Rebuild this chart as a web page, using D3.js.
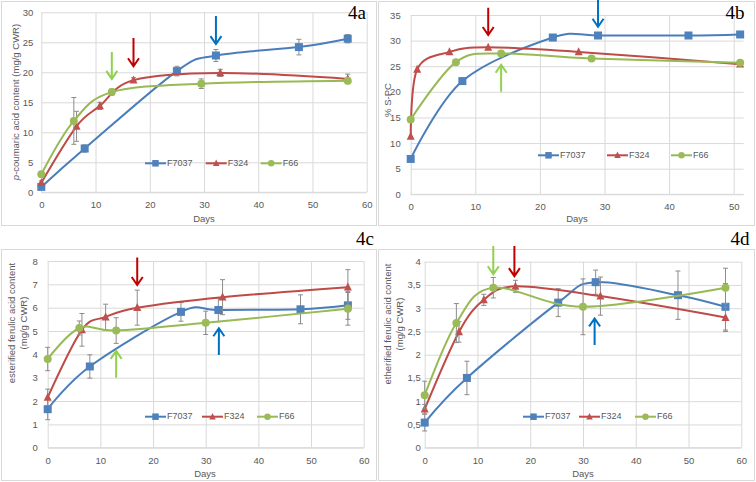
<!DOCTYPE html>
<html><head><meta charset="utf-8">
<script src="https://cdn.jsdelivr.net/npm/d3@7"></script>
<style>
body{margin:0;background:#fff;}
svg{display:block;font-family:"Liberation Sans","Open Sans",sans-serif;}
</style></head><body>
<svg id="c" width="756" height="482"></svg>
<script>
// ---- Data ----
const seriesNames = ["F7037", "F324", "F66"];
// Panel 4a : p-coumaric acid content
const a_F7037_days = [0, 8, 25, 32.2, 47.5, 56.5];
const a_F7037_vals = [0.9, 7.3, 20.2, 22.8, 24.2, 25.6];
const a_F7037_err  = [0.2, 0.6, 0.8, 1.0, 1.3, 0.7];
const a_F324_days  = [0, 6.5, 10.8, 17, 33, 56.5];
const a_F324_vals  = [1.6, 11.0, 14.4, 18.7, 19.9, 18.9];
const a_F324_err   = [0.3, 2.5, 0.6, 0.4, 0.6, 0.8];
const a_F66_days   = [0, 6, 13, 29.5, 56.5];
const a_F66_vals   = [3.0, 11.9, 16.7, 18.1, 18.6];
const a_F66_err    = [0.3, 3.9, 0.5, 0.8, 0.4];
// Panel 4b : % S-PC
const b_F7037_days = [0, 8, 22, 29, 43, 51];
const b_F7037_vals = [6.9, 22.1, 30.6, 31.0, 31.0, 31.2];
const b_F324_days  = [0, 1, 6, 12, 26, 51];
const b_F324_vals  = [11.3, 24.4, 27.8, 28.7, 27.8, 25.4];
const b_F66_days   = [0, 7, 14, 28, 51];
const b_F66_vals   = [14.6, 25.8, 27.5, 26.5, 25.7];
// Panel 4c : esterified ferulic acid content
const c_F7037_days = [0, 8, 25.3, 32.4, 48, 57];
const c_F7037_vals = [1.65, 3.48, 5.82, 5.9, 5.93, 6.1];
const c_F7037_err  = [0.45, 0.5, 0.4, 0.5, 0.62, 0.6];
const c_F324_days  = [0, 6.5, 11, 17, 33.2, 57];
const c_F324_vals  = [2.16, 5.05, 5.6, 6.0, 6.45, 6.88];
const c_F324_err   = [0.35, 0.7, 0.55, 0.75, 0.75, 0.75];
const c_F66_days   = [0, 6, 13, 30, 57];
const c_F66_vals   = [3.8, 5.13, 5.02, 5.35, 5.95];
const c_F66_err    = [0.5, 0.3, 0.55, 0.5, 0.7];
// Panel 4d : etherified ferulic acid content
const d_F7037_days = [0, 8, 25.3, 32.4, 48, 57];
const d_F7037_vals = [0.54, 1.5, 3.12, 3.56, 3.28, 3.03];
const d_F7037_err  = [0.18, 0.36, 0.3, 0.26, 0.52, 0.5];
const d_F324_days  = [0, 6.5, 11.2, 17.2, 33.3, 57];
const d_F324_vals  = [0.83, 2.49, 3.18, 3.47, 3.26, 2.8];
const d_F324_err   = [0.1, 0.22, 0.12, 0.13, 0.41, 0.3];
const d_F66_days   = [0, 6, 13, 30, 57];
const d_F66_vals   = [1.13, 2.68, 3.44, 3.03, 3.44];
const d_F66_err    = [0.3, 0.42, 0.22, 0.6, 0.42];
// Arrows: [day, yFrom, yTo] in data units
const a_arrows = {green:[13, 23.4, 18.9], red:[17, 25.7, 21.0], blue:[32.2, 29.4, 24.7]};
const b_arrows = {red:[12, 36.4, 31.1], blue:[29, 38.5, 32.7], green:[14, 20.0, 25.3]};
const c_arrows = {red:[17, 8.15, 6.97], green:[13, 3.0, 4.15], blue:[32.5, 3.97, 5.12]};
const d_arrows = {green:[13, 4.34, 3.73], red:[17, 4.34, 3.69], blue:[32.2, 2.21, 2.78]};
// Axis ticks
const a_yTicks = [0,5,10,15,20,25,30];
const b_yTicks = [0,5,10,15,20,25,30,35];
const c_yTicks = [0,1,2,3,4,5,6,7,8];
const d_yTicks = [0,0.5,1,1.5,2,2.5,3,3.5,4];
const xTicks60 = [0,10,20,30,40,50,60];
const xTicks50 = [0,10,20,30,40,50];

// ---- Styles ----
const col = {F7037:"#4F81BD", F324:"#C0504D", F66:"#9BBB59"};
const lineCol = {F7037:"#4A7EBB", F324:"#BE4B48", F66:"#98B954"};
const arrowCol = {red:"#C00000", blue:"#0070C0", green:"#92D050"};
const gridCol = "#d9d9d9", textCol = "#595959";

const svg = d3.select("#c");
svg.append("rect").attr("width",756).attr("height",482).attr("fill","#fff");

function mk(days, vals, err){ return days.map((d,i)=>({x:d, y:vals[i], e: err?err[i]:0})); }

const panels = [
 {id:"a", box:[1,1,376,225], xr:[41.3,366.7], xd:[0,60], yr:[192.3,12.3], yd:[0,30], yT:a_yTicks, xT:xTicks60, yPad:8, xPad:9,
  series:{F7037:mk(a_F7037_days,a_F7037_vals,a_F7037_err), F324:mk(a_F324_days,a_F324_vals,a_F324_err), F66:mk(a_F66_days,a_F66_vals,a_F66_err)},
  arrows:a_arrows, legY:163.3, legX:[145,205.7,260.7], label:"4a", labelPos:[357,19],
  ytitle:[{t:"p", rest:"-coumaric acid content (mg/g CWR)", x:15.5}], ytitleY:102, daysPos:[204,222], fmt:d3.format("d")},
 {id:"b", box:[378,1,377,225], xr:[410.7,743.7], xd:[0,51.55], yr:[194.3,15], yd:[0,35], yT:b_yTicks, xT:xTicks50, yPad:10, xPad:9,
  series:{F7037:mk(b_F7037_days,b_F7037_vals), F324:mk(b_F324_days,b_F324_vals), F66:mk(b_F66_days,b_F66_vals)},
  arrows:b_arrows, legY:155.3, legX:[538,607,671], label:"4b", labelPos:[735,19],
  ytitle:[{t:"% S-PC", x:388}], ytitleY:100, daysPos:[577,222], fmt:d3.format("d")},
 {id:"c", box:[1,249,376,232], xr:[47.7,363.7], xd:[0,60], yr:[447.7,261], yd:[0,8], yT:c_yTicks, xT:xTicks60, yPad:10, xPad:10,
  series:{F7037:mk(c_F7037_days,c_F7037_vals,c_F7037_err), F324:mk(c_F324_days,c_F324_vals,c_F324_err), F66:mk(c_F66_days,c_F66_vals,c_F66_err)},
  arrows:c_arrows, legY:416.7, legX:[145,202,257], label:"4c", labelPos:[365,245],
  ytitle:[{t:"esterified ferulic acid content", x:12.5},{t:"(mg/g CWR)", x:24.5}], ytitleY:323, daysPos:[205,477], fmt:d3.format("d")},
 {id:"d", box:[378,249,377,232], xr:[424.7,741.3], xd:[0,60], yr:[447.7,261.7], yd:[0,4], yT:d_yTicks, xT:xTicks60, yPad:4, xPad:10,
  series:{F7037:mk(d_F7037_days,d_F7037_vals,d_F7037_err), F324:mk(d_F324_days,d_F324_vals,d_F324_err), F66:mk(d_F66_days,d_F66_vals,d_F66_err)},
  arrows:d_arrows, legY:416.7, legX:[523,579,635], label:"4d", labelPos:[740,245],
  ytitle:[{t:"etherified ferulic acid content", x:388.5},{t:"(mg/g CWR)", x:400.5}], ytitleY:324, daysPos:[583,477], fmt:v=>String(v).replace(".",",")}
];

function marker(g, name, x, y, s){
  if(name==="F7037"){
    g.append("rect").attr("x",x-s/2).attr("y",y-s/2).attr("width",s).attr("height",s).attr("fill",col[name]);
  } else if(name==="F324"){
    const h=s*0.95;
    g.append("path").attr("d",`M${x},${y-h*0.6}L${x+s/2},${y+h*0.45}L${x-s/2},${y+h*0.45}Z`).attr("fill",col[name]);
  } else {
    g.append("circle").attr("cx",x).attr("cy",y).attr("r",s/2).attr("fill",col[name]);
  }
}

panels.forEach(p=>{
  const g = svg.append("g");
  g.append("rect").attr("x",p.box[0]+0.5).attr("y",p.box[1]+0.5).attr("width",p.box[2]-1).attr("height",p.box[3]-1)
    .attr("fill","#fff").attr("stroke","#d9d9d9").attr("stroke-width",1);
  const x = d3.scaleLinear().domain(p.xd).range(p.xr);
  const y = d3.scaleLinear().domain(p.yd).range(p.yr);
  const w = p.xr[1]-p.xr[0], h = p.yr[0]-p.yr[1];
  // y axis with horizontal grid
  const ya = g.append("g").attr("transform",`translate(${p.xr[0]},0)`)
    .call(d3.axisLeft(y).tickValues(p.yT).tickSize(-w).tickPadding(p.yPad).tickFormat(p.fmt));
  ya.select(".domain").remove();
  ya.selectAll("line").attr("stroke",gridCol);
  ya.selectAll("text").attr("fill",textCol).style("font-size","9.5px");
  // x axis with vertical grid
  const xa = g.append("g").attr("transform",`translate(0,${p.yr[0]})`)
    .call(d3.axisBottom(x).tickValues(p.xT).tickSize(-h).tickPadding(p.xPad).tickFormat(d3.format("d")));
  xa.select(".domain").remove();
  xa.selectAll("line").attr("stroke",gridCol);
  xa.selectAll("text").attr("fill",textCol).style("font-size","9.5px");
  g.append("line").attr("x1",p.xr[0]).attr("x2",p.xr[1]).attr("y1",p.yr[0]).attr("y2",p.yr[0]).attr("stroke",gridCol);
  // axis titles
  g.append("text").attr("x",p.daysPos[0]).attr("y",p.daysPos[1]).attr("text-anchor","middle")
    .attr("fill",textCol).style("font-size","9.5px").text("Days");
  p.ytitle.forEach(t=>{
    const tt = g.append("text").attr("transform",`translate(${t.x},${p.ytitleY}) rotate(-90)`)
      .attr("text-anchor","middle").attr("dominant-baseline","middle").attr("fill",textCol).style("font-size","9.5px");
    if(t.rest){ tt.append("tspan").style("font-style","italic").text(t.t); tt.append("tspan").text(t.rest); }
    else tt.text(t.t);
  });
  // series
  const line = d3.line().x(d=>x(d.x)).y(d=>y(d.y)).curve(d3.curveCatmullRom.alpha(0));
  seriesNames.forEach(name=>{
    const data = p.series[name];
    g.append("path").attr("d",line(data)).attr("fill","none").attr("stroke",lineCol[name]).attr("stroke-width",2);
    data.forEach(d=>{
      if(d.e>0){
        const xx=x(d.x), y1=y(d.y+d.e), y2=y(d.y-d.e);
        g.append("path").attr("d",`M${xx},${y1}V${y2}M${xx-2.5},${y1}H${xx+2.5}M${xx-2.5},${y2}H${xx+2.5}`)
          .attr("stroke","#8c8c8c").attr("stroke-width",1).attr("fill","none");
      }
    });
    data.forEach(d=>marker(g,name,x(d.x),y(d.y),8));
  });
  // legend
  seriesNames.forEach((name,i)=>{
    const lx=p.legX[i], ly=p.legY;
    g.append("line").attr("x1",lx).attr("x2",lx+21).attr("y1",ly).attr("y2",ly).attr("stroke",lineCol[name]).attr("stroke-width",2);
    marker(g,name,lx+10.5,ly,6.5);
    g.append("text").attr("x",lx+22).attr("y",ly).attr("dominant-baseline","middle").attr("fill",textCol)
      .style("font-size","9px").text(name);
  });
  // arrows
  Object.entries(p.arrows).forEach(([c,a])=>{
    const ax=x(a[0]), y1=y(a[1]), y2=y(a[2]);
    const dir = y2>y1 ? 1 : -1;
    g.append("path").attr("d",`M${ax},${y1}V${y2}M${ax-5.5},${y2-dir*8}L${ax},${y2}L${ax+5.5},${y2-dir*8}`)
      .attr("stroke",arrowCol[c]).attr("stroke-width",2).attr("fill","none");
  });
});
// panel labels
panels.forEach(p=>{
  svg.append("text").attr("x",p.labelPos[0]).attr("y",p.labelPos[1]).attr("text-anchor","middle")
    .style("font-family","'Liberation Serif','DejaVu Serif',serif").style("font-size","19px").attr("fill","#000").text(p.label);
});
</script>
</body></html>
